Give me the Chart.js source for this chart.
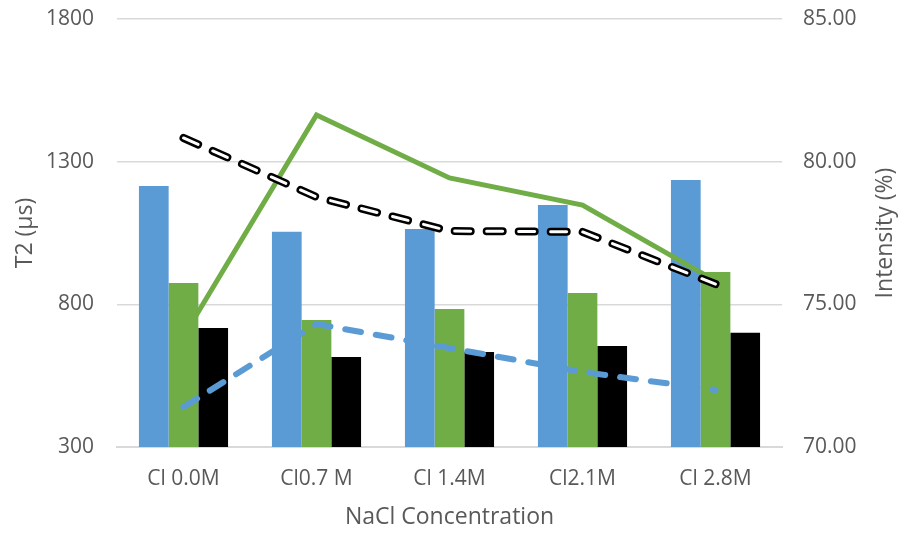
<!DOCTYPE html>
<html>
<head>
<meta charset="utf-8">
<script src="https://cdn.jsdelivr.net/npm/chart.js@4"></script>
<style>
  body { margin: 0; background: #fff; }
</style>
</head>
<body>
<canvas id="graphique" width="899" height="533"></canvas>
<script>
const concentrations = ['Cl 0.0M', 'Cl0.7 M', 'Cl 1.4M', 'Cl2.1M', 'Cl 2.8M']

// T2 bars (left axis, µs)
const t2Bleu = [1215, 1054, 1064, 1148, 1236]
const t2Vert = [875, 745, 784, 840, 913]
const t2Noir = [717, 615, 633, 654, 700]

// intensity lines (right axis, %)
const intensiteVert = [73.87, 81.64, 79.43, 78.48, 75.82]
const intensiteNoir = [80.83, 78.76, 77.57, 77.54, 75.71]
const intensiteBleu = [71.40, 74.31, 73.47, 72.63, 72.00]

const ticksGauche = [300, 800, 1300, 1800]
const ticksDroite = [70, 75, 80, 85]

const gris = '#595959'
const police = 'Open Sans'

// right axis title reads bottom-to-top, like the left one
const titreDroite = {
  id: 'titreDroite',
  afterDraw(chart) {
    const ctx = chart.ctx
    const zone = chart.chartArea
    ctx.save()
    ctx.translate(885, (zone.top + zone.bottom) / 2)
    ctx.rotate(-Math.PI / 2)
    ctx.font = '23px "' + police + '"'
    ctx.fillStyle = gris
    ctx.textAlign = 'center'
    ctx.textBaseline = 'middle'
    ctx.fillText('Intensity (%)', 0, 0)
    ctx.restore()
  }
}

function largeurAxe(s) {
  s.width = 117
  s.paddingTop = 0
  s.paddingBottom = 0
}

const canvasDom = document.getElementById('graphique')

new Chart(canvasDom, {
  data: {
    labels: concentrations,
    datasets: [
      { type: 'bar', data: t2Bleu, backgroundColor: '#5B9BD5', yAxisID: 'y', order: 3 },
      { type: 'bar', data: t2Vert, backgroundColor: '#70AD47', yAxisID: 'y', order: 3 },
      { type: 'bar', data: t2Noir, backgroundColor: '#000000', yAxisID: 'y', order: 3 },
      { type: 'line', data: intensiteVert, borderColor: '#70AD47', borderWidth: 5,
        yAxisID: 'y1', order: 2 },
      { type: 'line', data: intensiteNoir, borderColor: '#000000', borderWidth: 8,
        borderDash: [16, 16], borderCapStyle: 'round', yAxisID: 'y1', order: 1 },
      { type: 'line', data: intensiteNoir, borderColor: '#ffffff', borderWidth: 3,
        borderDash: [16, 16], borderCapStyle: 'round', yAxisID: 'y1', order: 0 },
      { type: 'line', data: intensiteBleu, borderColor: '#5B9BD5', borderWidth: 6,
        borderDash: [16, 15], borderCapStyle: 'round', yAxisID: 'y1', order: 1 }
    ]
  },
  plugins: [titreDroite],
  options: {
    responsive: false,
    animation: false,
    layout: { padding: { top: 19, bottom: 0, left: 0, right: 0 } },
    datasets: {
      bar: { categoryPercentage: 0.67, barPercentage: 1.0 },
      line: { tension: 0, pointRadius: 0, fill: false }
    },
    plugins: { legend: { display: false }, tooltip: { enabled: false } },
    scales: {
      x: {
        offset: true,
        grid: { display: false },
        border: { display: true, color: '#D9D9D9', width: 2 },
        ticks: { color: gris, font: { family: police, size: 21 }, padding: 11 },
        title: { display: true, text: 'NaCl Concentration', color: gris,
                 font: { family: police, size: 23 }, padding: { top: 0, bottom: 2 } },
        afterFit: (s) => { s.height = 86 }
      },
      y: {
        position: 'left',
        min: 300, max: 1800,
        afterBuildTicks: (s) => { s.ticks = ticksGauche.map(v => ({ value: v })) },
        grid: { color: '#D9D9D9', lineWidth: 1.5, drawTicks: false },
        border: { display: false },
        ticks: { color: gris, font: { family: police, size: 21 }, padding: 23,
                 callback: (v) => String(v) },
        title: { display: true, text: 'T2 (µs)', color: gris,
                 font: { family: police, size: 23 }, padding: { top: 12, bottom: 0 } },
        afterFit: largeurAxe
      },
      y1: {
        position: 'right',
        min: 70, max: 85,
        afterBuildTicks: (s) => { s.ticks = ticksDroite.map(v => ({ value: v })) },
        grid: { display: false, drawTicks: false },
        border: { display: false },
        ticks: { color: gris, font: { family: police, size: 21 }, padding: 21,
                 callback: (v) => Number(v).toFixed(2) },
        afterFit: largeurAxe
      }
    }
  }
})
</script>
</body>
</html>
